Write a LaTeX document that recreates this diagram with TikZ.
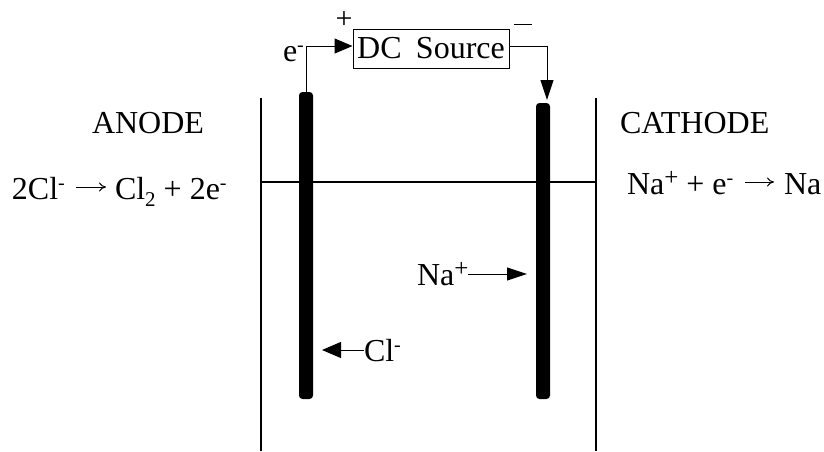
\documentclass[tikz,border=0pt]{standalone}
\usepackage{fontspec}
\setmainfont{Liberation Serif}
\usetikzlibrary{arrows.meta}
\tikzset{
  x=1pt,y=-1pt,
  lbl/.style={inner sep=0pt,outer sep=0pt,font=\fontsize{32}{34}\selectfont,anchor=base west},
  electrode/.style={fill=black,draw=none,rounded corners=3.5pt,minimum width=14pt,inner sep=0pt,outer sep=0pt},
  tank/.style={line width=1.4pt,black},
  wire/.style={line width=1pt,black},
  head/.style={-{Triangle[length=18pt,width=15pt]},line width=1pt,black},
  smallarrow/.style={-{To[length=7pt,width=9pt]},line width=1pt,black}
}
\newcommand{\sups}[1]{\raisebox{10pt}{\fontsize{20}{20}\selectfont #1}}
\newcommand{\supp}{\raisebox{8.5pt}{\fontsize{25}{25}\selectfont +}}
\newcommand{\subs}[1]{\raisebox{-7pt}{\fontsize{21}{21}\selectfont #1}}
\begin{document}
\begin{tikzpicture}
\useasboundingbox (0,0) rectangle (824,451);
% tank
\coordinate (tl) at (261,98); \coordinate (bl) at (261,451);
\coordinate (tr) at (596,98); \coordinate (br) at (596,451);
\coordinate (ml) at (261,182); \coordinate (mr) at (596,182);
\draw[tank] (tl) -- (bl);
\draw[tank] (tr) -- (br);
\draw[tank] (ml) -- (mr);
% electrodes
\node[electrode,minimum height=307pt] (anode) at (306,245.5) {};
\node[electrode,minimum height=296pt] (cathode) at (543,251) {};
% DC source
\node[draw,line width=1pt,minimum width=156pt,minimum height=39pt,inner sep=0pt,
      font=\fontsize{32}{34}\selectfont] (dc) at (431,48.5) {DC\hspace{0.45em}Source};
\coordinate (wl) at (306,46);
\coordinate (wr) at (547,46);
\coordinate (dcl) at (352.5,46);
\coordinate (dcr) at (509.5,46);
\coordinate (cathtip) at (547,100);
\draw[head] (anode.north) -- (wl) -- (dcl);
\draw[head,-{Triangle[length=20pt,width=13pt]}] (dcr) -- (wr) -- (cathtip);
\node[lbl] (plus) at (335.5,28) {\fontsize{30}{30}\selectfont +};
\node[lbl] (minus) at (514,26) {\rule[1.5pt]{18pt}{1pt}};
\node[lbl] (em) at (283,61) {e\sups{-}};
% labels
\node[lbl] (an) at (92,133) {ANODE};
\node[lbl] (ca) at (620,133) {CATHODE};
\node[lbl] (aeq1) at (12,199) {2Cl\sups{-}};
\coordinate (a1) at (76,187); \coordinate (a2) at (106,187);
\draw[smallarrow] (a1) -- (a2);
\node[lbl] (aeq2) at (115,199) {Cl\subs{2} + 2e\sups{-}};
\node[lbl] (ceq1) at (627,194) {Na\supp{} + e\sups{-}};
\coordinate (c1) at (745,182); \coordinate (c2) at (774,182);
\draw[smallarrow] (c1) -- (c2);
\node[lbl] (ceq2) at (784,194) {Na};
% ions
\node[lbl] (na) at (417,285) {Na\supp{}};
\coordinate (natip) at (527,274);
\draw[head,-{Triangle[length=20pt,width=13pt]}] (na.base east |- natip) -- (natip);
\node[lbl] (cl) at (364,361) {Cl\sups{-}};
\coordinate (cltip) at (322,350);
\draw[head,-{Triangle[length=19pt,width=16pt]}] (cl.base west |- cltip) -- (cltip);
\end{tikzpicture}
\end{document}
